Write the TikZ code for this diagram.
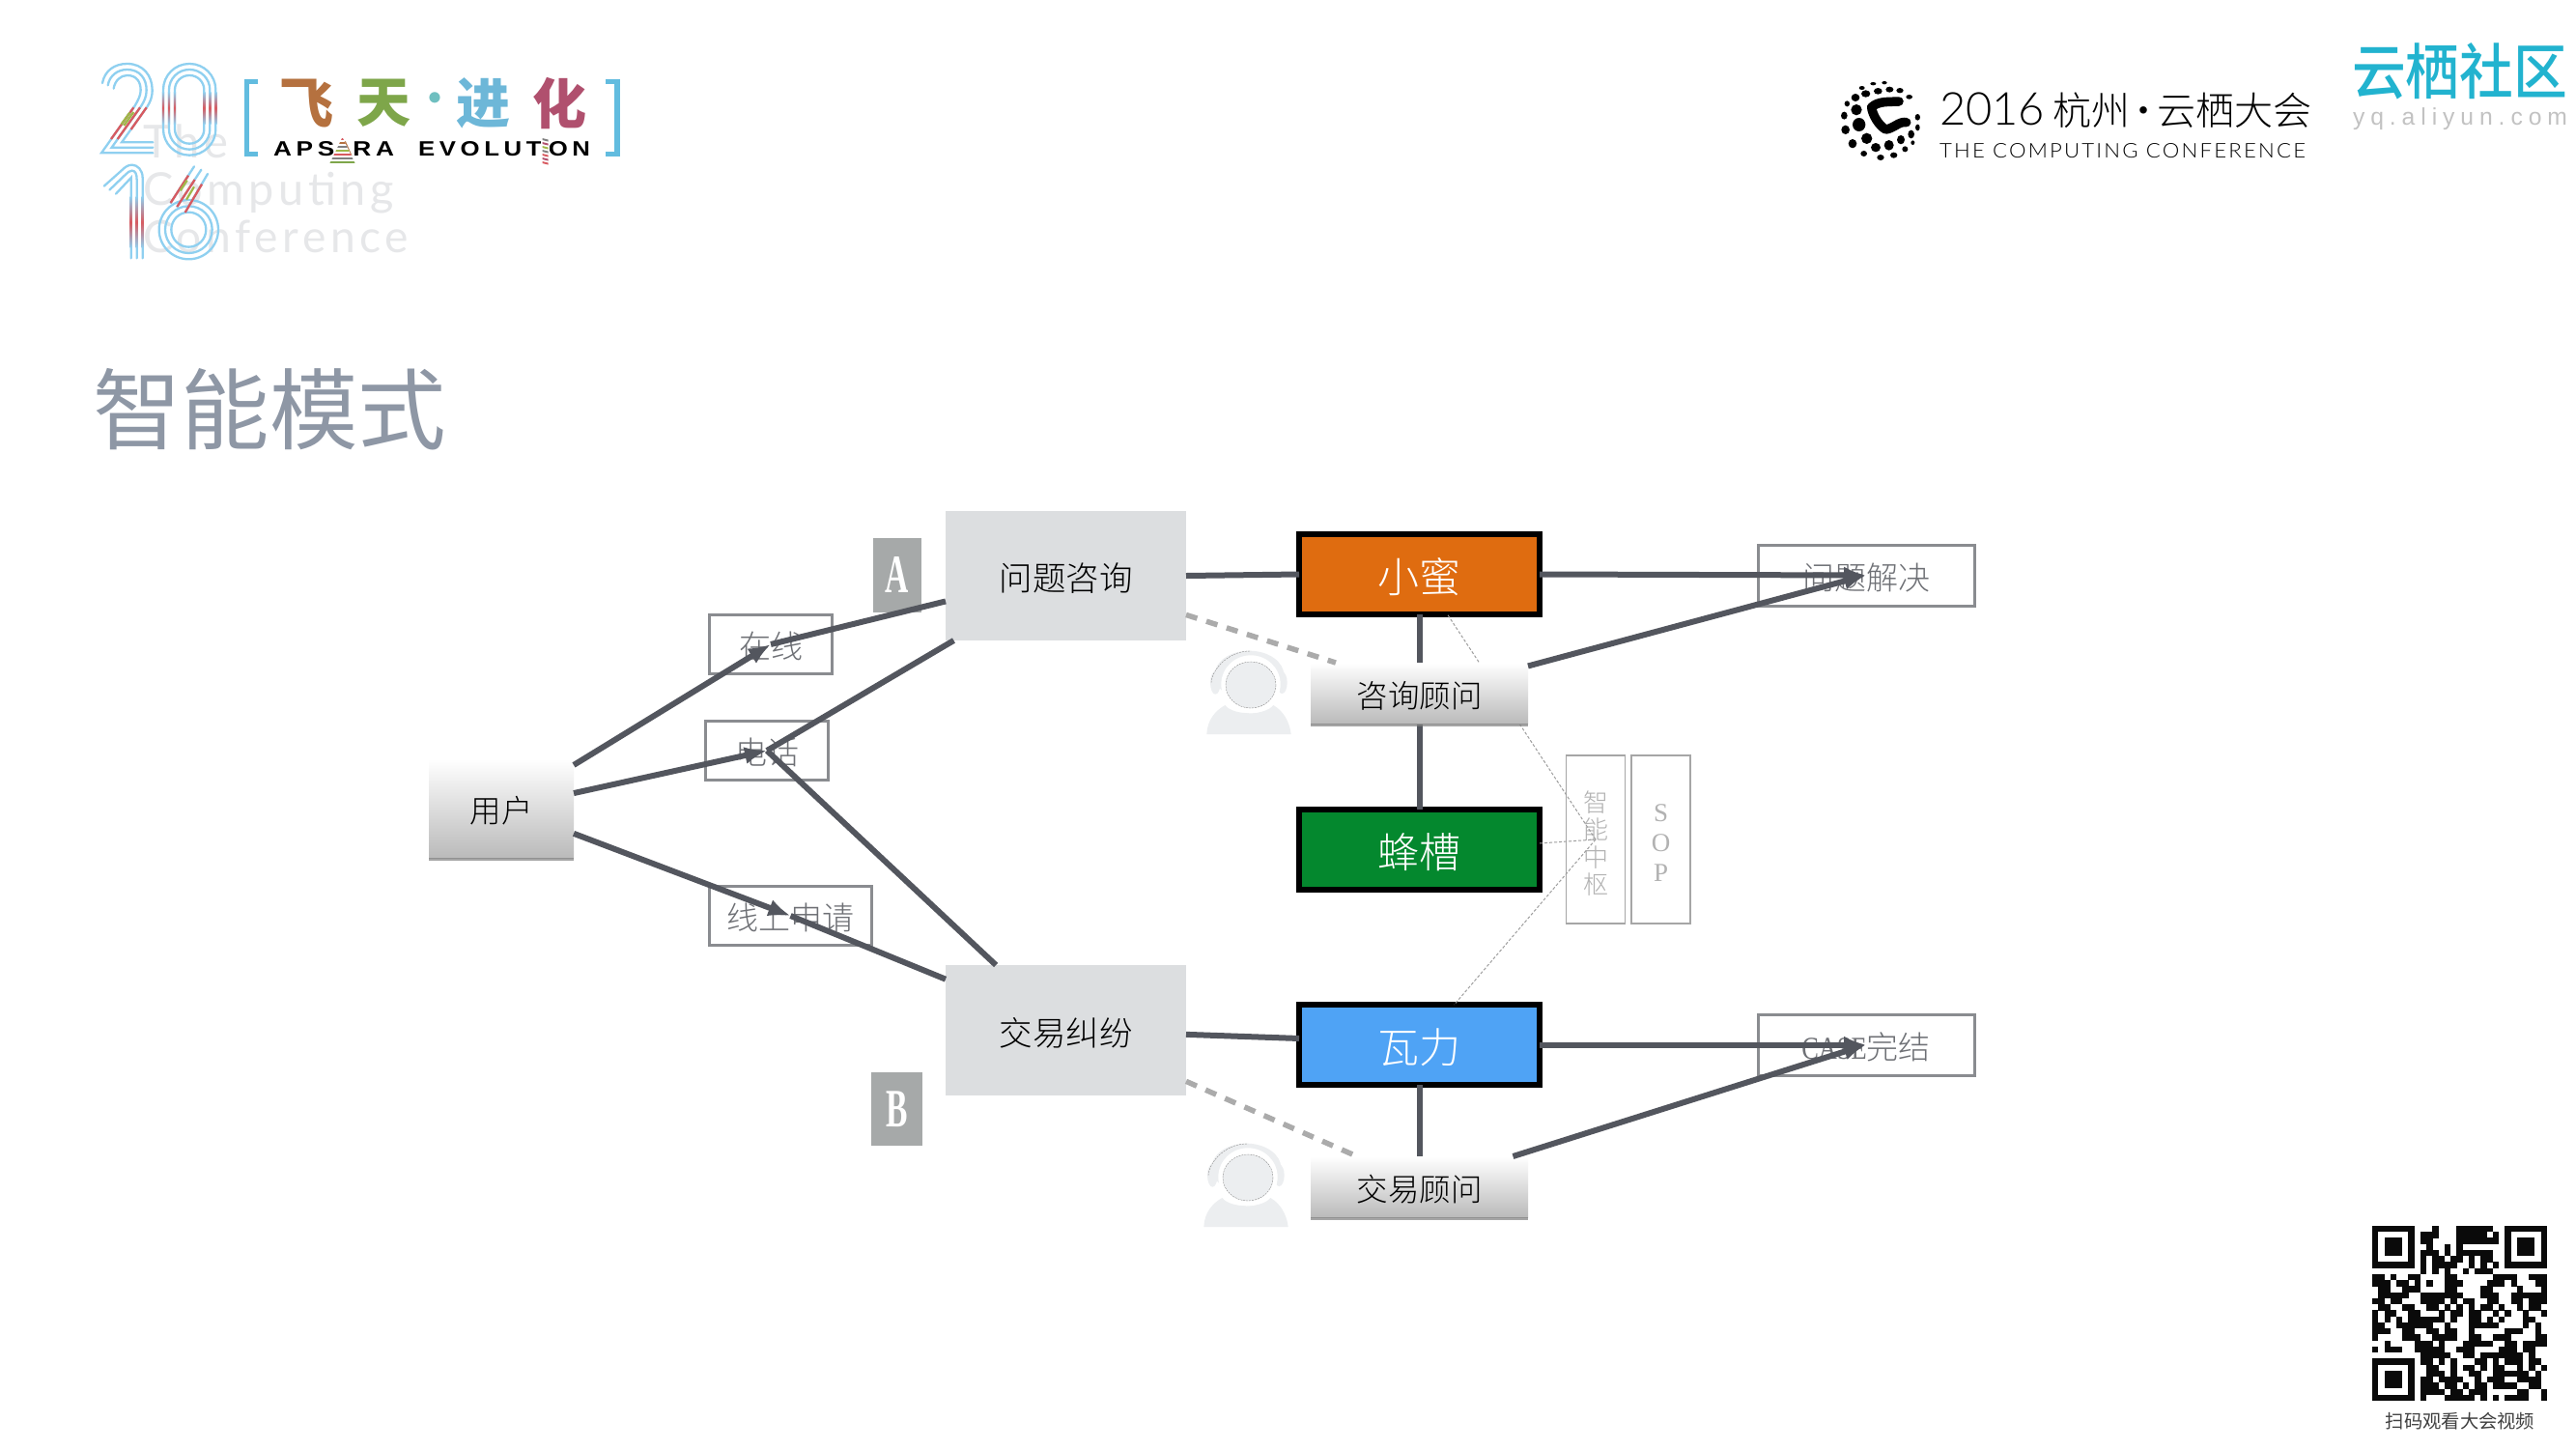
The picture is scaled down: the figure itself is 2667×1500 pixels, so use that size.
\documentclass[tikz,border=0pt]{standalone}
\usepackage{graphicx}
\usepackage{fontspec}
\setmainfont{Liberation Serif}
\newfontfamily\cjk{Noto Sans CJK SC}
\newfontfamily\cjkl{Noto Sans CJK SC Light}
\newfontfamily\cjkm{Noto Sans CJK SC Medium}
\newfontfamily\lat{Lato Light}
\newfontfamily\latsp[LetterSpace=10]{Lato}
\newfontfamily\latlsp[LetterSpace=10]{Lato Light}
\newfontfamily\apsf[LetterSpace=18]{Liberation Sans}
\newfontfamily\yqf[LetterSpace=24]{Liberation Sans}
\usetikzlibrary{arrows.meta}
\definecolor{linec}{HTML}{53565E}
\definecolor{boxline}{HTML}{8A8C90}
\definecolor{labelc}{HTML}{6E7075}
\definecolor{blockc}{HTML}{DCDEE0}
\definecolor{badgec}{HTML}{A6A9A9}
\definecolor{orangec}{HTML}{DF6C10}
\definecolor{greenc}{HTML}{04882E}
\definecolor{bluec}{HTML}{4FA3F5}
\definecolor{titlec}{HTML}{8E97A5}
\definecolor{tealc}{HTML}{22B3CF}
\definecolor{ghostc}{HTML}{E6E7E9}
\definecolor{digitc}{HTML}{8FD0F0}
\definecolor{bracketc}{HTML}{62BCDF}
\definecolor{redc}{HTML}{D85A60}
\definecolor{limec}{HTML}{A0B84A}
\definecolor{personc}{HTML}{ECEEF0}
\definecolor{qrc}{HTML}{0A0A0A}
\definecolor{feic}{HTML}{B5713F}
\definecolor{tianc}{HTML}{7EA64A}
\definecolor{dotc}{HTML}{6FBFC0}
\definecolor{jinc}{HTML}{6DB7D8}
\definecolor{huac}{HTML}{B0506E}
\tikzset{
  every node/.style={inner sep=0pt,outer sep=0pt},
  sz/.style={font=\fontsize{#1}{#1}\selectfont\cjkl,execute at begin node={\rule[-.2em]{0pt}{1.3em}}},
  labelbox/.style={draw=boxline,line width=3pt,text=labelc,sz=33},
  block/.style={fill=blockc,text=black,sz=34.5},
  badge/.style={fill=badgec,text=white,font=\fontsize{56}{56}\selectfont\bfseries},
  engine/.style={draw=black,line width=6pt,minimum width=249pt,minimum height=83pt,text=white,sz=43},
  grad/.style={top color=white,bottom color=black!27,sz=32.5,text=black},
  shadowbar/.style={fill=black!50,opacity=.7},
  thick line/.style={draw=linec,line width=6pt},
  thick arrow/.style={thick line,-{Latex[length=23pt,width=18pt]}},
  dash line/.style={draw=black!33,line width=5.5pt,dash pattern=on 12pt off 10pt},
  dot line/.style={draw=black!38,line width=1pt,dash pattern=on 3pt off 2pt},
  sidebox/.style={draw=black!35,line width=1.5pt,minimum width=61pt,minimum height=174pt,text=black!30},
  stroke/.style={draw=digitc,line width=2.3pt},
  rstroke/.style={draw=redc,line width=2.3pt},
  gstroke/.style={draw=limec,line width=2.3pt},
}
\begin{document}
\begin{tikzpicture}[x=1pt,y=-1pt]
\useasboundingbox (0,0) rectangle (2667,1500);
\fill[white] (0,0) rectangle (2667,1500);

% ghost text
\node[anchor=west,text=ghostc] (g1) at (148,146) {\resizebox{88pt}{!}{\fontsize{46}{46}\selectfont\latsp The}};
\node[anchor=west,text=ghostc] (g2) at (148,200) {\resizebox{260pt}{!}{\fontsize{46}{46}\selectfont\latsp Computing}};
\node[anchor=west,text=ghostc] (g3) at (148,245) {\resizebox{275pt}{!}{\fontsize{46}{46}\selectfont\latsp Conference}};

% 2016 digits
\begin{scope}[shift={(95,60)},x=.33333pt,y=-.33333pt]
  % 2
  \draw[stroke,line cap=round] (33,78) .. controls (40,40) and (70,18) .. (110,18) .. controls (160,18) and (188,55) .. (188,100) .. controls (188,125) and (180,138) .. (173,150) -- (93,262) -- (190,262);
  \draw[stroke,line cap=round] (50,85) .. controls (55,55) and (80,36) .. (110,36) .. controls (150,36) and (170,65) .. (170,100) .. controls (170,120) and (163,135) .. (153,150) -- (62,278) -- (190,278);
  \draw[stroke,line cap=round] (68,95) .. controls (72,70) and (90,54) .. (110,54) .. controls (140,54) and (152,75) .. (152,100) .. controls (152,115) and (145,130) .. (133,150) -- (30,295) -- (190,295);
  \draw[rstroke] (170,154) -- (122,222);
  \draw[rstroke] (150,154) -- (80,252);
  \draw[rstroke] (130,154) -- (60,252);
  \draw[gstroke] (130,168) -- (100,210);
  \draw[gstroke] (118,170) -- (92,206);
  % 0
  \draw[stroke,rounded corners=27pt] (222,18) rectangle (385,302);
  \draw[stroke,rounded corners=21pt] (240,36) rectangle (367,284);
  \draw[stroke,rounded corners=15pt] (258,54) rectangle (349,266);
  \foreach \xx in {222,240,258,349,367,385}
    \shade[top color=digitc,bottom color=digitc,middle color=redc] (\xx-3.5,105) rectangle (\xx+3.5,205);
  % 1
  \draw[stroke,line cap=round] (158,622) -- (158,372) .. controls (158,348) and (142,332) .. (125,332) .. controls (112,332) and (102,340) .. (92,350) -- (38,398);
  \draw[stroke,line cap=round] (140,622) -- (140,378) .. controls (140,360) and (135,350) .. (125,350) .. controls (118,350) and (112,355) .. (105,362) -- (55,410);
  \draw[stroke,line cap=round] (122,622) -- (122,372) -- (75,422);
  \foreach \xx in {122,140,158}
    \shade[top color=digitc,bottom color=digitc,middle color=redc] (\xx-3.5,430) rectangle (\xx+3.5,590);
  % 6
  \draw[stroke] (301,533) circle [radius=92];
  \draw[stroke] (301,533) circle [radius=73];
  \draw[stroke] (301,533) circle [radius=54];
  \draw[stroke,line cap=round] (318,337) -- (245,450);
  \draw[stroke,line cap=round] (340,347) -- (265,462);
  \draw[stroke,line cap=round] (360,360) -- (290,480);
  \draw[rstroke] (300,365) -- (245,450);
  \draw[rstroke] (320,378) -- (265,462);
  \draw[rstroke] (342,392) -- (290,480);
  \draw[gstroke] (296,380) -- (275,412);
  \draw[gstroke] (318,400) -- (294,440);
\end{scope}

% Apsara logo
\draw[draw=bracketc,line width=5.5pt] (267,84.5) -- (255.5,84.5) -- (255.5,159.5) -- (267,159.5);
\draw[draw=bracketc,line width=5.5pt] (627,84.5) -- (639,84.5) -- (639,159.5) -- (627,159.5);
\node[text=feic,font=\fontsize{56}{56}\selectfont\cjk\bfseries] (fei) at (317,107) {飞};
\node[text=tianc,font=\fontsize{56}{56}\selectfont\cjk\bfseries] (tian) at (397,107) {天};
\node[text=dotc,font=\fontsize{40}{40}\selectfont\cjk\bfseries] (dot) at (450,106) {·};
\node[text=jinc,font=\fontsize{56}{56}\selectfont\cjk\bfseries] (jin) at (500,107) {进};
\node[text=huac,font=\fontsize{56}{56}\selectfont\cjk\bfseries] (hua) at (579,107) {化};
\node[anchor=west] (aps) at (283,154.5) {\resizebox{125pt}{15pt}{\apsf\bfseries APS\textcolor{feic}{A}RA}};
\node[anchor=west] (evo) at (433,154.5) {\resizebox{178pt}{15pt}{\apsf\bfseries EVOLUT\textcolor{huac}{I}ON}};
\fill[white] (354.5,142) -- (341,170) -- (368,170) -- cycle;
\begin{scope}
  \clip (354.5,142) -- (341,170) -- (368,170) -- cycle;
  \foreach \yy/\cc in {143/redc,147/feic,151/gray,155/limec,159/redc,163/gray,167/tianc}
    \fill[\cc] (335,\yy) rectangle (375,\yy+2.4);
\end{scope}
\fill[white] (560,142) rectangle (569,170);
\foreach \yy/\cc in {143/gray,147/huac,151/limec,155/gray,159/redc,163/huac,167/redc}
  \fill[\cc] (561.5,\yy) -- (567.5,\yy+1.5) -- (567.5,\yy+3.5) -- (561.5,\yy+2) -- cycle;

% conference logo
\begin{scope}[shift={(1895,75)},x=.33333pt,y=-.33333pt]
  \foreach \px/\py/\rx/\ry in {168/32/8/5,133/35/9/5,98/48/9/6,148/58/13/10,110/66/14/11,184/53/12/9,216/56/11/8,245/76/10/7,78/78/13/12,52/97/8/9,81/116/17/17,43/134/10/12,89/162/20/21,47/178/13/14,113/205/17/17,69/221/13/14,141/233/15/14,182/226/15/16,219/209/12/14,251/192/10/13,271/139/8/10,271/171/7/10,256/218/6/7,232/238/9/9,197/257/11/9,156/264/11/9,104/252/10/9}
    \fill[black] (\px,\py) ellipse [x radius=\rx,y radius=\ry];
  \draw[black,line width=9.5pt,line cap=round,line join=round] (213,90) .. controls (180,92) and (150,88) .. (128,108) .. controls (130,130) and (150,165) .. (172,177) .. controls (195,175) and (215,150) .. (236,155);
\end{scope}
\node[anchor=west,font=\fontsize{40}{40}\selectfont\cjkl] (conf) at (2008,114) {{\lat\fontsize{47}{47}\selectfont 2016}\hspace{8pt}杭州\hspace{-6pt}·\hspace{-6pt}云栖大会};
\node[anchor=west] (confen) at (2008,156.5) {\resizebox{379pt}{15pt}{\latlsp THE COMPUTING CONFERENCE}};
\node[anchor=west,text=tealc] (yq) at (2435,73.5) {\resizebox{223pt}{53pt}{\fontsize{56}{56}\selectfont\cjkm 云栖社区}};
\node[anchor=west,text=black!24] (yqen) at (2436,123) {\resizebox{222pt}{!}{\fontsize{25}{25}\selectfont\yqf yq.aliyun.com}};

% title
\node[text=titlec,font=\fontsize{91.5}{91.5}\selectfont\cjk] (title) at (279,424) {智能模式};

% QR code
\foreach \qx/\qy in {0/0,22/0,0/22}{
  \fill[qrc] ({2456+\qx*6.24},{1269+\qy*6.24}) rectangle ++(43.7,43.7);
  \fill[white] ({2456+(\qx+1)*6.24},{1269+(\qy+1)*6.24}) rectangle ++(31.2,31.2);
  \fill[qrc] ({2456+(\qx+2)*6.24},{1269+(\qy+2)*6.24}) rectangle ++(18.7,18.7);
}
\foreach \r/\cs in {
 0/{10,14,15,16,17,18,19},
 1/{8,9,10,14,15,16,17,18,20},
 2/{8,9,14,15,16,17,18,19,20},
 3/{9,12,14},
 4/{8,9,10,12,14,15,16,17,18,19},
 5/{8,10,11,13,14,16,18,19},
 6/{8,10,11,12,13,16,18,20},
 7/{8,10,12,15,17,18,19},
 8/{0,1,3,6,7,12,13,20,21,22,23,26,27,28},
 9/{0,1,2,4,5,7,9,12,13,14,19,20,21,23,27,28},
 10/{1,2,5,6,7,12,13,18,19,24,28},
 11/{1,2,3,4,5,8,9,10,11,12,13,14,18,19,20,23,24,25,26,27,28},
 12/{0,1,3,4,8,9,10,11,13,15,16,19,20,23,24,26,27,28},
 13/{1,2,5,6,9,10,12,14,16,18,19,21,24,26,27},
 14/{0,2,3,6,7,11,13,14,16,17,20,22,25,28},
 15/{0,2,4,6,7,8,9,10,11,13,16,17,19,21,25,26},
 16/{0,1,4,5,6,7,8,9,12,16,17,18,19,20,25,27},
 17/{0,1,2,5,6,9,10,12,13,16,22,23,24,27},
 18/{0,5,6,7,10,11,12,13,16,17,20,21,22,27,28},
 19/{2,7,8,9,11,15,16,17,18,19,22,23,25,26,27,28},
 20/{0,2,3,4,7,8,9,10,11,14,15,16,21,22,23,25,26},
 21/{8,9,10,11,12,15,16,18,19,20,21,22,23,24,26},
 22/{8,9,11,13,17,18,20,22,23,24,26,27},
 23/{9,10,13,15,16,18,20,21,24,26,28},
 24/{9,10,11,13,16,17,20,21,22,23,24,25,27},
 25/{8,9,11,12,13,14,17,19,20,21,24,25,26,27},
 26/{8,9,10,12,13,15,17,18,20,21,22,23,26,27},
 27/{8,9,10,11,13,14,16,17,18,24,25,28},
 28/{8,12,13,14,15,16,18,20,22,23,24,25,28}}{
  \foreach \c in \cs {
    \fill[qrc] ({2456+\c*6.24},{1269+\r*6.24}) rectangle ++(6.4,6.4);
  }
}
\node[text=black!75,font=\fontsize{19.3}{19.3}\selectfont\cjk] (qrcap) at (2547,1471) {扫码观看大会视频};

% persons
\foreach \sx/\sy in {1240/665,1237/1175}{
\begin{scope}[shift={(\sx,\sy)},x=.33333pt,y=-.33333pt]
  \fill[personc] (55,125) ellipse [x radius=16,y radius=36];
  \fill[personc] (262,125) ellipse [x radius=16,y radius=34];
  \fill[personc] (160,102) ellipse [x radius=108,y radius=76];
  \fill[personc] (28,285) .. controls (30,240) and (55,212) .. (85,195) .. controls (110,228) and (210,228) .. (235,195) .. controls (265,212) and (285,245) .. (290,285) -- cycle;
  \fill[white] (165,130) ellipse [x radius=92,y radius=90];
  \fill[personc] (165,132) ellipse [x radius=78,y radius=72];
  \draw[black!45,line width=.4pt,dash pattern=on 2pt off 1pt] (165,132) ellipse [x radius=78,y radius=72];
  \draw[black!45,line width=.4pt,dash pattern=on 2pt off 1pt] (42,125) .. controls (45,80) and (100,25) .. (165,27);
\end{scope}
}

% left side nodes
\node[grad,minimum width=150pt,minimum height=102pt] (user) at (519,837) {用户};
\fill[shadowbar] (user.south west) rectangle ([yshift=-3pt]user.south east);
\node[labelbox,minimum width=127pt,minimum height=61pt] (online) at (798,667) {在线};
\node[labelbox,minimum width=127pt,minimum height=61pt] (phone) at (794,777) {电话};
\node[labelbox,minimum width=168pt,minimum height=61pt] (apply) at (818.5,948) {线上申请};
\node[badge,minimum width=50pt,minimum height=77pt] (bA) at (929,595.5) {\scalebox{.6}[1]{A}};
\node[badge,minimum width=53pt,minimum height=76pt] (bB) at (928.5,1148) {\scalebox{.6}[1]{B}};
\node[block,minimum width=249pt,minimum height=134pt] (ask) at (1103.5,596) {问题咨询};
\node[block,minimum width=249pt,minimum height=135pt] (dispute) at (1103.5,1066.5) {交易纠纷};

% engines
\node[engine,fill=orangec] (xm) at (1469.5,594.5) {小蜜};
\node[engine,fill=greenc] (fc) at (1469.5,879.5) {蜂槽};
\node[engine,fill=bluec] (wl) at (1469.5,1081.5) {瓦力};

% side boxes
\node[sidebox,align=center,font=\fontsize{26}{28.5}\selectfont\cjkl] (zn) at (1652,869) {\rule{0pt}{30pt}智\\能\\中\\枢};
\node[sidebox,align=center,font=\fontsize{27}{31}\selectfont] (sop) at (1719.5,869) {\rule{0pt}{25pt}S\\O\\P};

% results
\node[labelbox,minimum width=224pt,minimum height=63pt] (done) at (1932,595.5) {问题解决};
\node[labelbox,minimum width=224pt,minimum height=63pt] (casedone) at (1932,1081.5) {{\rmfamily\scalebox{.8}[1]{CASE}}完结};

% lines behind advisors
\draw[dot line] (zn.center) -- (xm.-55.6);
\draw[dot line] (zn.center) -- (fc.3.4);
\draw[dot line] (zn.center) -- (wl.49.1);
\draw[thick line] (xm.south) -- (fc.north);

% advisors
\node[grad,minimum width=225pt,minimum height=63pt] (adv1) at (1469.5,717.5) {咨询顾问};
\fill[shadowbar] (adv1.south west) rectangle ([yshift=-3pt]adv1.south east);
\node[grad,minimum width=225pt,minimum height=63pt] (adv2) at (1469.5,1228.5) {交易顾问};
\fill[shadowbar] (adv2.south west) rectangle ([yshift=-3pt]adv2.south east);

% connectors
\draw[thick line] (wl.south) -- (adv2.north);
\draw[dash line] (ask.-18.2) -- (adv1.160.4);
\draw[dash line] (dispute.-23.3) -- (adv2.154.3);
\draw[thick arrow] (user.31) -- (online.center);
\draw[thick arrow] (user.12.8) -- (phone.center);
\draw[thick arrow] (user.-19) -- (apply.center);
\draw[thick line] (online.center) -- (ask.192.2);
\draw[thick line] (phone.center) -- (ask.210.8);
\draw[thick line] (phone.center) -- (dispute.137.4);
\draw[thick line] (apply.center) -- (dispute.157.5);
\draw[thick line] (ask.east) -- (xm.west);
\draw[thick line] (dispute.-2) -- (wl.177.5);
\draw[thick arrow] (xm.east) -- (done.center);
\draw[thick arrow] (adv1.14.7) -- (done.center);
\draw[thick arrow] (wl.east) -- (casedone.center);
\draw[thick arrow] (adv2.18.2) -- (casedone.center);
\end{tikzpicture}
\end{document}
